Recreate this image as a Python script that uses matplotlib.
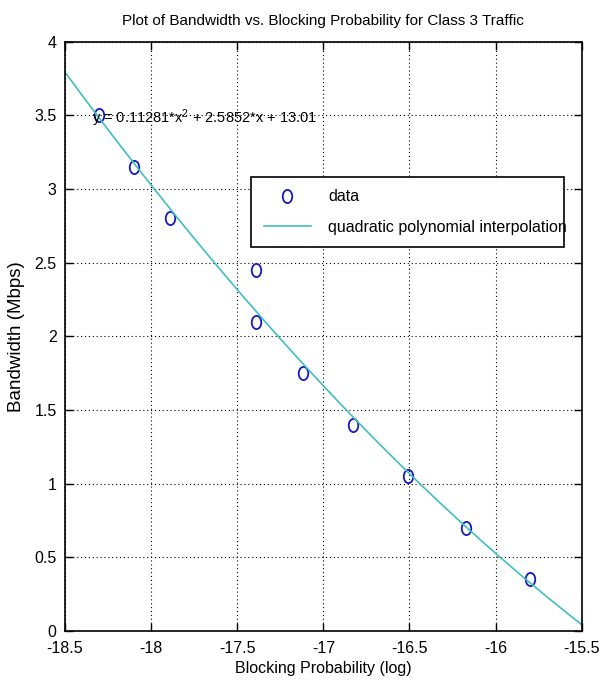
import numpy as np
import matplotlib
matplotlib.use('Agg')
import matplotlib.pyplot as plt
from matplotlib.path import Path
from matplotlib.transforms import Affine2D

# data
block_prob = [-18.30, -18.10, -17.89, -17.39, -17.39, -17.12, -16.83, -16.51, -16.17, -15.80]
bandwidth = [3.50, 3.15, 2.80, 2.45, 2.10, 1.75, 1.40, 1.05, 0.70, 0.35]
# fit coefficients printed on the chart
fit_coef = [0.11281, 2.5852, 13.01]
x_ticks = [-18.5, -18, -17.5, -17, -16.5, -16, -15.5]
y_ticks = [0, 0.5, 1, 1.5, 2, 2.5, 3, 3.5, 4]

plt.rcParams['font.family'] = ['Liberation Sans', 'DejaVu Sans']
plt.rcParams['mathtext.fontset'] = 'custom'
plt.rcParams['mathtext.rm'] = 'Liberation Sans'
plt.rcParams['mathtext.default'] = 'rm'

fig = plt.figure(figsize=(6.01, 6.94), dpi=100)
ax = fig.add_axes([0.108, 0.091, 0.860, 0.849])

# slightly tall circle, like the squashed original
oval = Path.unit_circle().transformed(Affine2D().scale(0.72, 1.0))

ax.plot(block_prob, bandwidth, linestyle='none', marker=oval, markersize=9.5,
        markerfacecolor='none', markeredgecolor='#1818c0', markeredgewidth=1.3,
        label='data')

xs = np.linspace(x_ticks[0], x_ticks[-1], 200)
ax.plot(xs, np.polyval(fit_coef, xs), color='#40bfbf', linewidth=1.2,
        label='quadratic polynomial interpolation')

ax.text(-18.345, 3.48, 'y = 0.11281*x$^2$ + 2.5852*x + 13.01', fontsize=10.5,
        va='center', ha='left')

ax.set_xlim(x_ticks[0], x_ticks[-1])
ax.set_ylim(y_ticks[0], y_ticks[-1])
ax.set_xticks(x_ticks)
ax.set_yticks(y_ticks)
ax.set_xticklabels(['%g' % t for t in x_ticks])
ax.set_yticklabels(['%g' % t for t in y_ticks])
ax.tick_params(direction='in', length=6, width=1, labelsize=11.5,
               top=True, right=True)
ax.tick_params(axis='x', pad=7)
ax.tick_params(axis='y', pad=6)
ax.grid(True, color='black', linestyle=(0, (1, 2.5)), linewidth=0.8)
for s in ax.spines.values():
    s.set_linewidth(1.2)

ax.set_title('Plot of Bandwidth vs. Blocking Probability for Class 3 Traffic',
             fontsize=11, pad=12)
ax.set_xlabel('Blocking Probability (log)', fontsize=11.5, labelpad=4)
ax.set_ylabel('Bandwidth (Mbps)', fontsize=13.5, labelpad=7)

leg = ax.legend(loc='upper left', bbox_to_anchor=(0.361, 0.649, 0.604, 0.122),
                mode='expand', borderaxespad=0, fontsize=11.5, fancybox=False,
                framealpha=1, edgecolor='black', handlelength=2.9,
                borderpad=0.8, labelspacing=0.95, handletextpad=1.1)
leg.get_frame().set_linewidth(1.2)

fig.savefig('out.png', dpi=100)
